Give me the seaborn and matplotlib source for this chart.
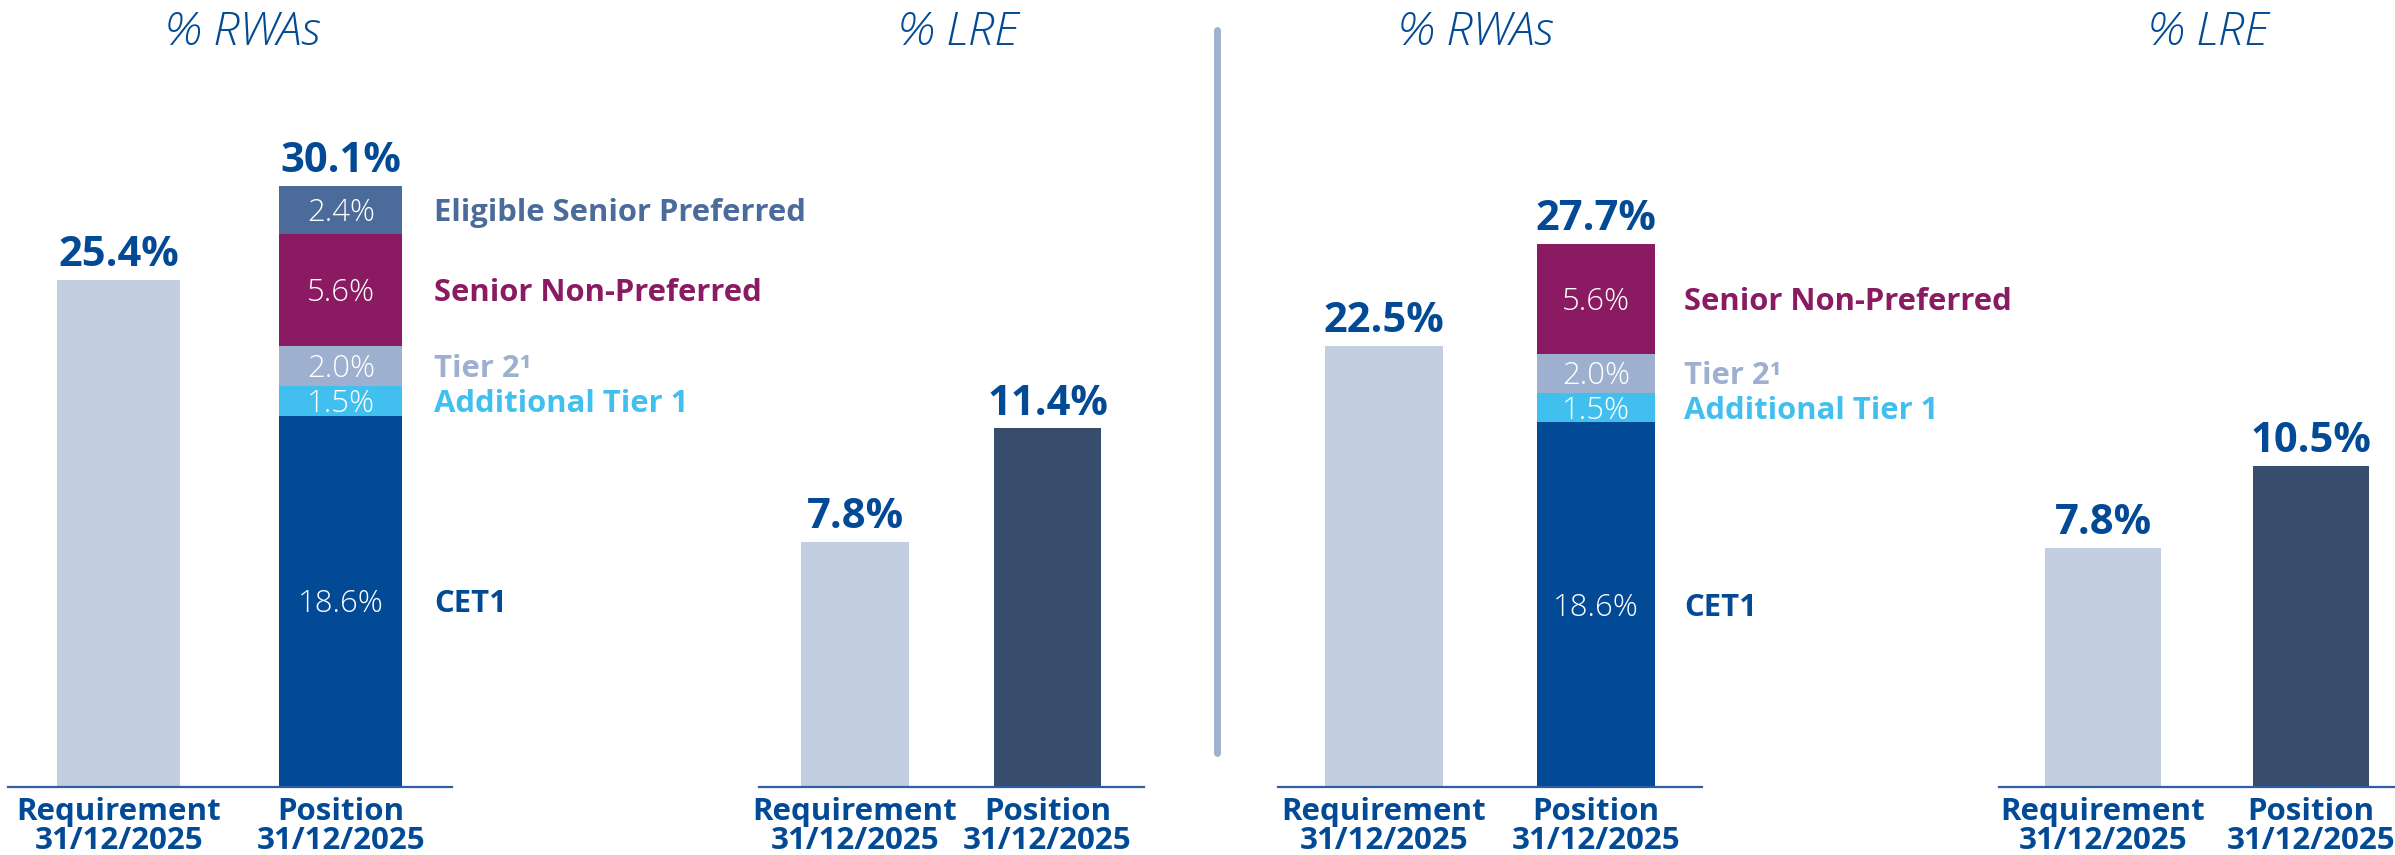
import matplotlib
matplotlib.use("Agg")
import numpy as np
import matplotlib.pyplot as plt
from matplotlib.lines import Line2D
import seaborn as sns

# ---- data -------------------------------------------------------------
categories = ["Requirement\n31/12/2025", "Position\n31/12/2025"]
layer_names = ["CET1", "Additional Tier 1", "Tier 2¹",
               "Senior Non-Preferred", "Eligible Senior Preferred"]
layer_colors = ["#034a96", "#41bfee", "#9eb0cf", "#8a1b63", "#4b6b9b"]

left_rwa_requirement = 25.4
left_rwa_layers = [18.6, 1.5, 2.0, 5.6, 2.4]
left_lre_values = [7.8, 11.4]

right_rwa_requirement = 22.5
right_rwa_layers = [18.6, 1.5, 2.0, 5.6]
right_lre_values = [7.8, 10.5]

titles = ["% RWAs", "% LRE", "% RWAs", "% LRE"]

# ---- style ------------------------------------------------------------
sns.set_theme(style="white")
plt.rcParams["font.family"] = ["Open Sans", "DejaVu Sans"]

BLUE = "#034a96"
REQ_COLOR = "#c3cee0"
LRE_POS_COLOR = "#384c6c"
AXIS_COLOR = "#2f5da6"
DIVIDER_COLOR = "#9fb1cf"

W, H = 2395, 855
fig = plt.figure(figsize=(W / 100, H / 100), dpi=100)
fig.patch.set_facecolor("white")

BASE_PX = 787          # baseline (px from top)
TOP_PX = 27            # top of every axes (px from top)
AX_H_PX = BASE_PX - TOP_PX


def make_axes(x0_px, x1_px, px_per_unit):
    ax = fig.add_axes([x0_px / W, (H - BASE_PX) / H,
                       (x1_px - x0_px) / W, AX_H_PX / H])
    ax.set_facecolor("none")
    return ax, AX_H_PX / px_per_unit


def finish(ax, ymax):
    ax.set_xlim(-0.5, 1.5)
    ax.set_ylim(0, ymax)
    ax.set_yticks([])
    ax.set_xlabel("")
    ax.set_ylabel("")
    for side in ("left", "right", "top"):
        ax.spines[side].set_visible(False)
    ax.spines["bottom"].set_color(AXIS_COLOR)
    ax.spines["bottom"].set_linewidth(1.6)
    ax.spines["bottom"].set_zorder(5)
    ax.set_xticks([0, 1])
    ax.set_xticklabels(categories, fontweight="bold", fontsize=22.5,
                       color=BLUE, linespacing=0.97)
    ax.tick_params(axis="x", length=0, pad=7)


def total_label(ax, x, value):
    ax.annotate(f"{value:.1f}%", xy=(x, value), xytext=(0, 10),
                textcoords="offset points", ha="center", va="baseline",
                fontsize=30, fontweight="bold", color=BLUE,
                annotation_clip=False)


def centered_text(ax, x, y, text, size, **kw):
    # vertical centre on the cap height of the text
    ax.annotate(text, xy=(x, y), xytext=(0, -0.357 * size),
                textcoords="offset points", va="baseline", fontsize=size,
                annotation_clip=False, **kw)


def draw_rwa(ax, requirement, layers, width, label_x):
    sns.barplot(x=[categories[0]], y=[requirement], order=categories,
                color=REQ_COLOR, saturation=1, width=width, errorbar=None,
                linewidth=0, ax=ax)
    tops = np.cumsum(layers)
    for i in reversed(range(len(layers))):
        sns.barplot(x=[categories[1]], y=[tops[i]], order=categories,
                    color=layer_colors[i], saturation=1, width=width,
                    errorbar=None, linewidth=0, ax=ax)
    total_label(ax, 0, requirement)
    total_label(ax, 1, tops[-1])
    bottoms = tops - np.array(layers)
    for i, v in enumerate(layers):
        mid = bottoms[i] + v / 2
        centered_text(ax, 1, mid, f"{v:.1f}%", 22.3, ha="center",
                      color="white", fontweight="light")
        centered_text(ax, label_x, mid, layer_names[i], 22.3, ha="left",
                      color=layer_colors[i], fontweight="bold")


def draw_lre(ax, values, width):
    sns.barplot(x=categories, y=values, hue=categories, order=categories,
                hue_order=categories, palette=[REQ_COLOR, LRE_POS_COLOR],
                saturation=1, width=width, errorbar=None, linewidth=0,
                legend=False, ax=ax)
    for i, v in enumerate(values):
        total_label(ax, i, v)


# ---- first entity -----------------------------------------------------
ax1, ymax1 = make_axes(7.5, 452, 19.96)
draw_rwa(ax1, left_rwa_requirement, left_rwa_layers, 0.553, 1.418)
finish(ax1, ymax1)

ax2, ymax2 = make_axes(758.75, 1143.75, 31.45)
draw_lre(ax2, left_lre_values, 0.561)
finish(ax2, ymax2)

# ---- second entity ----------------------------------------------------
ax3, ymax3 = make_axes(1278, 1702, 19.6)
draw_rwa(ax3, right_rwa_requirement, right_rwa_layers, 0.557, 1.415)
finish(ax3, ymax3)

ax4, ymax4 = make_axes(1999, 2415, 30.6)
draw_lre(ax4, right_lre_values, 0.558)
finish(ax4, ymax4)

# ---- panel titles -----------------------------------------------------
title_x_px = [243, 958, 1476, 2208]
for t, xp in zip(titles, title_x_px):
    fig.text(xp / W, 1 - 45 / H, t, ha="center", va="baseline",
             fontsize=34, style="italic", fontweight="light", color=BLUE)

# ---- divider between the two entities ---------------------------------
fig.add_artist(Line2D([1217 / W, 1217 / W], [1 - 30 / H, 1 - 753 / H],
                      transform=fig.transFigure, color=DIVIDER_COLOR,
                      linewidth=5.0, solid_capstyle="round"))

fig.savefig("out.png", dpi=100, facecolor="white")
